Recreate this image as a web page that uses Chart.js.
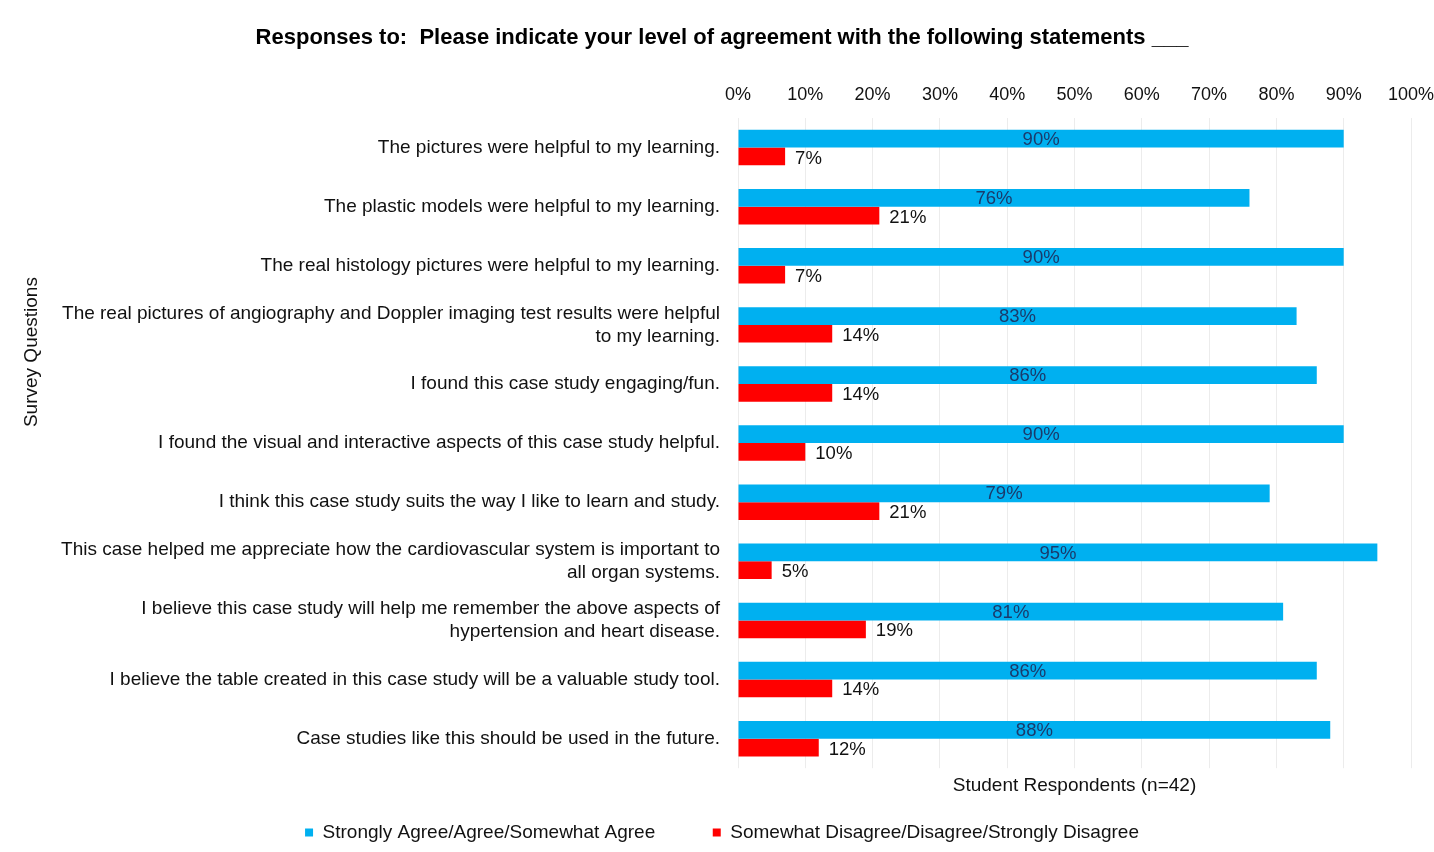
<!DOCTYPE html>
<html>
<head>
<meta charset="utf-8">
<title>Survey responses</title>
<script src="https://cdn.jsdelivr.net/npm/chart.js@4.4.1/dist/chart.umd.min.js"></script>
<style>
  html, body { margin: 0; padding: 0; background: #fff; }
  #wrap { width: 1434px; height: 852px; }
</style>
</head>
<body>
<div id="wrap"><canvas id="surveyChart" width="1434" height="852"></canvas></div>
<script>
const questions = [
    "The pictures were helpful to my learning.",
    "The plastic models were helpful to my learning.",
    "The real histology pictures were helpful to my learning.",
    ["The real pictures of angiography and Doppler imaging test results were helpful", "to my learning."],
    "I found this case study engaging/fun.",
    "I found the visual and interactive aspects of this case study helpful.",
    "I think this case study suits the way I like to learn and study.",
    ["This case helped me appreciate how the cardiovascular system is important to", "all organ systems."],
    ["I believe this case study will help me remember the above aspects of", "hypertension and heart disease."],
    "I believe the table created in this case study will be a valuable study tool.",
    "Case studies like this should be used in the future."
];
const agree = [90, 76, 90, 83, 86, 90, 79, 95, 81, 86, 88];
const disagree = [7, 21, 7, 14, 14, 10, 21, 5, 19, 14, 12];
const percentTicks = [0, 10, 20, 30, 40, 50, 60, 70, 80, 90, 100];

const FONT = "'Liberation Sans', Arial, sans-serif";
Chart.defaults.font.family = FONT;
Chart.defaults.color = "#111";

// value labels: centred inside the blue bars, just past the end of the red ones
const barLabels = {
    id: "barLabels",
    afterDatasetsDraw(chart) {
        const ctx = chart.ctx;
        ctx.save();
        ctx.font = "18.5px " + FONT;
        ctx.textBaseline = "middle";
        chart.data.datasets.forEach((ds, i) => {
            const meta = chart.getDatasetMeta(i);
            meta.data.forEach((bar, j) => {
                const txt = ds.data[j] + "%";
                if (i === 0) {
                    ctx.fillStyle = "#1a3a6b";
                    ctx.textAlign = "center";
                    ctx.fillText(txt, (bar.x + bar.base) / 2, bar.y + 1);
                } else {
                    ctx.fillStyle = "#111";
                    ctx.textAlign = "left";
                    ctx.fillText(txt, bar.x + 10, bar.y + 2);
                }
            });
        });
        ctx.restore();
    }
};

// rotated y-axis title, sitting in the upper part of the label column
const yAxisTitle = {
    id: "yAxisTitle",
    afterDraw(chart) {
        const ctx = chart.ctx;
        const area = chart.chartArea;
        ctx.save();
        ctx.translate(32, area.top + (area.bottom - area.top) * 0.36);
        ctx.rotate(-Math.PI / 2);
        ctx.font = "19px " + FONT;
        ctx.fillStyle = "#111";
        ctx.textAlign = "center";
        ctx.textBaseline = "middle";
        ctx.fillText("Survey Questions", 0, 0);
        ctx.restore();
    }
};

new Chart(document.getElementById("surveyChart"), {
    type: "bar",
    data: {
        labels: questions,
        datasets: [{
            label: "Strongly Agree/Agree/Somewhat Agree",
            data: agree,
            backgroundColor: "#00b0f0",
            categoryPercentage: 0.6,
            barPercentage: 1.0
        }, {
            label: "Somewhat Disagree/Disagree/Strongly Disagree",
            data: disagree,
            backgroundColor: "#ff0000",
            categoryPercentage: 0.6,
            barPercentage: 1.0
        }]
    },
    options: {
        indexAxis: "y",
        responsive: false,
        animation: false,
        layout: { padding: { left: 10, right: 0, top: 14, bottom: 0 } },
        plugins: {
            title: {
                display: true,
                text: "Responses to:  Please indicate your level of agreement with the following statements ___",
                font: { size: 22, weight: "bold" },
                color: "#000",
                padding: { top: 11, bottom: 21 }
            },
            legend: {
                position: "bottom",
                labels: {
                    boxWidth: 8,
                    boxHeight: 8,
                    font: { size: 19 },
                    color: "#111",
                    padding: 10,
                    generateLabels(chart) {
                        const items = Chart.defaults.plugins.legend.labels.generateLabels(chart);
                        items[0].text += "         ";
                        return items;
                    }
                }
            },
            tooltip: { enabled: false }
        },
        scales: {
            x: {
                position: "top",
                min: 0,
                max: 100,
                afterBuildTicks: (s) => { s.ticks = percentTicks.map(v => ({ value: v })); },
                // only leave room for half of the "100%" label on the right
                afterFit: (s) => { s.paddingRight = 23; },
                ticks: {
                    callback: (v) => v + "%",
                    font: { size: 18 },
                    color: "#111",
                    padding: 12
                },
                grid: { color: "#ececec", drawTicks: false },
                border: { display: false }
            },
            xTitle: {
                axis: "x",
                position: "bottom",
                min: 0,
                max: 100,
                ticks: { display: false },
                grid: { display: false, drawTicks: false },
                border: { display: false },
                title: {
                    display: true,
                    text: "Student Respondents (n=42)",
                    font: { size: 19 },
                    color: "#111",
                    padding: { top: 6, bottom: 16 }
                }
            },
            y: {
                ticks: {
                    font: { size: 19 },
                    color: "#111",
                    padding: 10
                },
                grid: { display: false },
                border: { display: false },
                afterFit: (s) => { s.width = 728; }
            }
        }
    },
    plugins: [barLabels, yAxisTitle]
});
</script>
</body>
</html>
